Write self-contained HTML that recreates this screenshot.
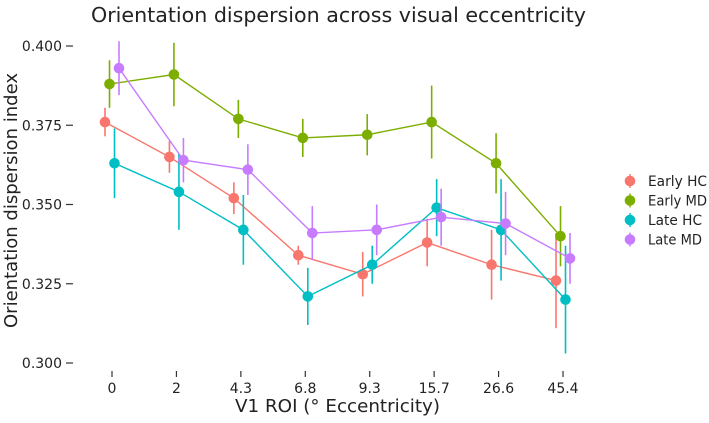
<!DOCTYPE html>
<html><head><meta charset="utf-8"><style>
body{margin:0;background:#fff;font-family:"DejaVu Sans","Liberation Sans",sans-serif;}
</style></head><body>
<svg id="chart" width="709" height="419" xmlns="http://www.w3.org/2000/svg" font-family="DejaVu Sans, Liberation Sans, sans-serif">
<text x="91" y="22" font-size="20" textLength="495" lengthAdjust="spacingAndGlyphs" fill="#222">Orientation dispersion across visual eccentricity</text>
<text transform="translate(17,328) rotate(-90)" font-size="18" textLength="255" lengthAdjust="spacingAndGlyphs" fill="#222">Orientation dispersion index</text>
<text x="235" y="412" font-size="18" textLength="205" lengthAdjust="spacingAndGlyphs" fill="#222">V1 ROI (° Eccentricity)</text>
<g id="axes"></g><g id="marks"></g><g id="legend"></g>
</svg>
<script>
const categories=["0","2","4.3","6.8","9.3","15.7","26.6","45.4"];
const yTicks=[0.300,0.325,0.350,0.375,0.400];
const seriesNames=["Early HC","Early MD","Late HC","Late MD"];
const seriesColors=["#F8766D","#7CAE00","#00BFC4","#C77CFF"];
const earlyHC=[0.376,0.365,0.352,0.334,0.328,0.338,0.331,0.326];
const earlyHCErr=[0.0045,0.005,0.005,0.003,0.007,0.0075,0.011,0.015];
const earlyMD=[0.388,0.391,0.377,0.371,0.372,0.376,0.363,0.340];
const earlyMDErr=[0.0075,0.010,0.006,0.006,0.0065,0.0115,0.0095,0.0095];
const lateHC=[0.363,0.354,0.342,0.321,0.331,0.349,0.342,0.320];
const lateHCErr=[0.011,0.012,0.011,0.009,0.006,0.009,0.016,0.017];
const lateMD=[0.393,0.364,0.361,0.341,0.342,0.346,0.344,0.333];
const lateMDErr=[0.0085,0.007,0.008,0.0085,0.008,0.009,0.01,0.008];
const NS="http://www.w3.org/2000/svg";
const yScale=v=>46+(0.400-v)/0.100*317;
const xScale=i=>112+i*64.43;
const dodge=[-7,-2.5,2.5,7];
function mk(tag,attrs,parent){const e=document.createElementNS(NS,tag);for(const k in attrs)e.setAttribute(k,attrs[k]);parent.appendChild(e);return e;}
const axes=document.getElementById('axes');
yTicks.forEach(t=>{
  const y=yScale(t);
  const l=mk('line',{x1:66,x2:73,y1:y,y2:y,stroke:'#333','stroke-width':1.2},axes);
  
  
  const tx=mk('text',{x:62,y:y+5,'font-size':14,'text-anchor':'end',fill:'#222'},axes);
  tx.textContent=t.toFixed(3);
  
  
});
categories.forEach((c,i)=>{
  const x=xScale(i);
  const l=mk('line',{x1:x,x2:x,y1:371,y2:377,stroke:'#333','stroke-width':1.2},axes);
  
  
  const tx=mk('text',{x:x,y:393,'font-size':14,'text-anchor':'middle',fill:'#222'},axes);
  tx.textContent=c;
  
  
});
const marks=document.getElementById('marks');
const vals=[earlyHC,earlyMD,lateHC,lateMD];
const errs=[earlyHCErr,earlyMDErr,lateHCErr,lateMDErr];
vals.forEach((s,si)=>{
  const g=mk('g',{},marks);
  
  
  const pts=s.map((v,i)=>(xScale(i)+dodge[si])+','+yScale(v)).join(' ');
  const pl=mk('polyline',{points:pts,fill:'none',stroke:seriesColors[si],'stroke-width':1.4},g);
  
  
  s.forEach((v,i)=>{
    const x=xScale(i)+dodge[si];
    const e=mk('line',{x1:x,x2:x,y1:yScale(v+errs[si][i]),y2:yScale(v-errs[si][i]),stroke:seriesColors[si],'stroke-width':1.6},g);
    
    
    const p=mk('circle',{cx:x,cy:yScale(v),r:5.3,fill:seriesColors[si]},g);
    
    
  });
});
const legend=document.getElementById('legend');
seriesNames.forEach((n,i)=>{
  const y=181+i*19.5;
  const g=mk('g',{},legend);
  
  
  mk('line',{x1:630,x2:630,y1:y-7,y2:y+7,stroke:seriesColors[i],'stroke-width':1.4},g);
  mk('circle',{cx:630,cy:y,r:5.3,fill:seriesColors[i]},g);
  const t=mk('text',{x:648,y:y+5,'font-size':14,fill:'#222',textLength:n.length>=8?59:54,lengthAdjust:'spacingAndGlyphs'},g);
  t.textContent=n;
});
</script>
</body></html>
